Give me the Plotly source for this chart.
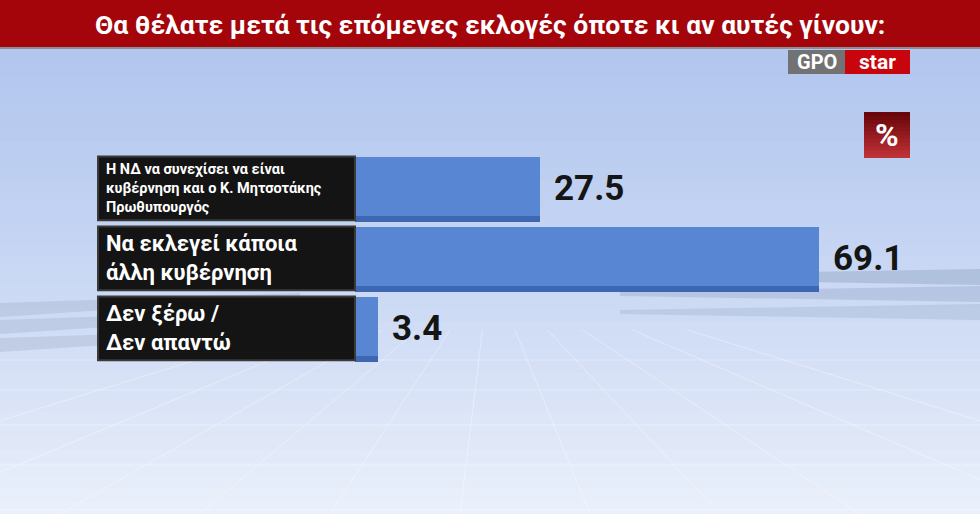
import plotly.graph_objects as go

title = "Θα θέλατε μετά τις επόμενες εκλογές όποτε κι αν αυτές γίνουν:"
categories = [
    "Η ΝΔ να συνεχίσει να είναι<br>κυβέρνηση και ο Κ. Μητσοτάκης<br>Πρωθυπουργός",
    "Να εκλεγεί κάποια<br>άλλη κυβέρνηση",
    "Δεν ξέρω /<br>Δεν απαντώ",
]
values = [27.5, 69.1, 3.4]
value_labels = ["27.5", "69.1", "3.4"]
label_sizes = [14.5, 22, 22]

W, H = 980, 514
x0_px, px_per_unit = 355, 6.72
y0_px, px_per_row = 188, 70
xr = [-x0_px / px_per_unit, (W - x0_px) / px_per_unit]
yr = [(H - y0_px) / px_per_row, -y0_px / px_per_row]

pos = list(range(len(categories)))
fig = go.Figure()

fig.add_trace(go.Bar(
    x=values, y=[p + 0.03 for p in pos], orientation="h", width=0.9,
    marker=dict(color="#3D66B3", line=dict(width=0)), hoverinfo="skip", showlegend=False))
fig.add_trace(go.Bar(
    x=values, y=[p - 0.02 for p in pos], orientation="h", width=0.84,
    marker=dict(color="#5986D2", line=dict(width=0)), hoverinfo="skip", showlegend=False))
fig.update_layout(barmode="overlay")

shapes = []
top = (176, 197, 238)
bot = (234, 240, 251)
n = 40
for i in range(n):
    t = i / (n - 1)
    c = tuple(int(top[k] + (bot[k] - top[k]) * (t ** 1.3)) for k in range(3))
    y_top = 1 - i / n
    shapes.append(dict(type="rect", xref="paper", yref="paper", x0=0, x1=1,
                       y0=y_top - 1 / n - 0.004, y1=y_top, line=dict(width=0),
                       fillcolor="rgb(%d,%d,%d)" % c, layer="below"))
vx = 490 / W
for bx in [-300, -100, 60, 200, 330, 460, 590, 720, 860, 1060, 1280]:
    shapes.append(dict(type="line", xref="paper", yref="paper",
                       x0=vx + (bx - 490) / W * 0.25, y0=1 - 330 / H,
                       x1=bx / W, y1=0,
                       line=dict(color="rgba(255,255,255,0.35)", width=1), layer="below"))
for yy in [360, 390, 425, 465, 510]:
    shapes.append(dict(type="line", xref="paper", yref="paper", x0=0, x1=1,
                       y0=1 - yy / H, y1=1 - yy / H,
                       line=dict(color="rgba(255,255,255,0.3)", width=1), layer="below"))
for yy, cc in [(283, "rgba(120,140,175,0.3)"), (300, "rgba(120,140,175,0.25)"), (318, "rgba(120,140,175,0.2)")]:
    shapes.append(dict(type="path", xref="paper", yref="paper",
                       path="M %f,%f L 1,%f L 1,%f L %f,%f Z" % (
                           620 / W, 1 - (yy - 8) / H, 1 - (yy - 14) / H, 1 - (yy + 2) / H,
                           620 / W, 1 - (yy - 4) / H),
                       fillcolor=cc, line=dict(width=0), layer="below"))
    shapes.append(dict(type="path", xref="paper", yref="paper",
                       path="M %f,%f L 0,%f L 0,%f L %f,%f Z" % (
                           300 / W, 1 - (yy + 10) / H, 1 - (yy + 20) / H, 1 - (yy + 34) / H,
                           300 / W, 1 - (yy + 14) / H),
                       fillcolor="rgba(140,155,185,0.25)", line=dict(width=0), layer="below"))

shapes.append(dict(type="rect", xref="paper", yref="paper", x0=0, x1=1,
                   y0=1 - 47 / H, y1=1, fillcolor="#A3050B", line=dict(width=0)))
shapes.append(dict(type="rect", xref="paper", yref="paper", x0=0, x1=1,
                   y0=1 - 49 / H, y1=1 - 47 / H, fillcolor="#8E8E96", line=dict(width=0)))
shapes.append(dict(type="rect", xref="paper", yref="paper", x0=788 / W, x1=845 / W,
                   y0=1 - 74 / H, y1=1 - 50 / H, fillcolor="#727274", line=dict(width=0)))
shapes.append(dict(type="rect", xref="paper", yref="paper", x0=845 / W, x1=910 / W,
                   y0=1 - 74 / H, y1=1 - 50 / H, fillcolor="#C8050C", line=dict(width=0)))
ng = 12
for i in range(ng):
    t = i / (ng - 1)
    c = (int(105 + (190 - 105) * t), int(5 + (50 - 5) * t), int(10 + (55 - 10) * t))
    shapes.append(dict(type="rect", xref="paper", yref="paper", x0=864 / W, x1=910 / W,
                       y0=1 - min(158, 112 + 46 * (i + 1) / ng + 1) / H,
                       y1=1 - (112 + 46 * i / ng) / H,
                       fillcolor="rgb(%d,%d,%d)" % c, line=dict(width=0)))

for p in pos:
    shapes.append(dict(type="rect", xref="paper", yref="y", x0=98 / W, x1=x0_px / W,
                       y0=p - 0.45, y1=p + 0.46, fillcolor="#141414",
                       line=dict(color="#3A3A3A", width=2)))

annotations = [
    dict(text="<b>" + title + "</b>", xref="paper", yref="paper", x=0.5, y=1 - 24 / H,
         showarrow=False, font=dict(family="Roboto", size=26.5, color="white"),
         xanchor="center", yanchor="middle"),
    dict(text="<b>GPO</b>", xref="paper", yref="paper", x=816.5 / W, y=1 - 62 / H,
         xanchor="center", yanchor="middle",
         showarrow=False, font=dict(family="Roboto", size=20, color="white")),
    dict(text="<b>star</b>", xref="paper", yref="paper", x=877.5 / W, y=1 - 62 / H,
         xanchor="center", yanchor="middle",
         showarrow=False, font=dict(family="Roboto", size=21, color="white")),
    dict(text="<b>%</b>", xref="paper", yref="paper", x=887 / W, y=1 - 135 / H,
         xanchor="center", yanchor="middle",
         showarrow=False, font=dict(family="Roboto", size=32, color="white")),
]
for p, cat, s in zip(pos, categories, label_sizes):
    annotations.append(dict(text="<b>" + cat + "</b>", xref="paper", yref="y",
                            x=104 / W, y=p, xanchor="left", yanchor="middle", align="left",
                            showarrow=False,
                            font=dict(family="Roboto", size=s, color="white")))
for p, v, lab in zip(pos, values, value_labels):
    annotations.append(dict(text="<b>" + lab + "</b>", x=v, y=p, xref="x", yref="y",
                            xanchor="left", yanchor="middle", xshift=12, showarrow=False,
                            font=dict(family="Roboto", size=35, color="#151515")))

fig.update_layout(
    width=W, height=H, margin=dict(l=0, r=0, t=0, b=0),
    paper_bgcolor="#B8CBEF", plot_bgcolor="rgba(0,0,0,0)",
    xaxis=dict(range=xr, visible=False, fixedrange=True),
    yaxis=dict(range=yr, visible=False, fixedrange=True),
    shapes=shapes, annotations=annotations, showlegend=False, bargap=0,
)
fig.write_html("out.html", config={"displayModeBar": False},
               post_script="document.body.style.margin='0';")
